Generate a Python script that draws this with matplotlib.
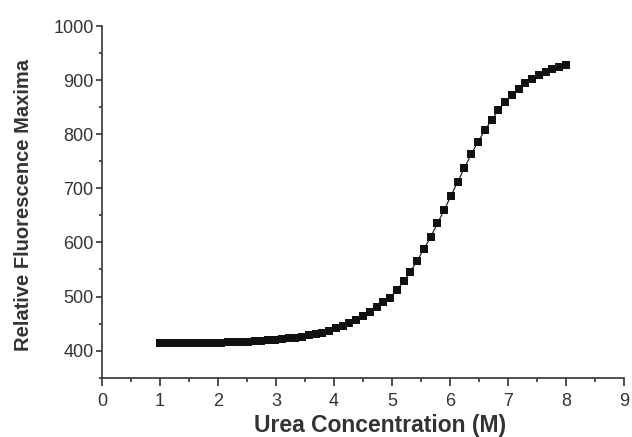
import matplotlib
matplotlib.use("Agg")
import matplotlib.pyplot as plt
from matplotlib.ticker import MultipleLocator

# Urea denaturation curve: relative fluorescence maxima vs. urea concentration
urea_m = [1.000, 1.117, 1.233, 1.350, 1.467, 1.583, 1.700, 1.817, 1.933, 2.050,
          2.167, 2.283, 2.400, 2.517, 2.633, 2.750, 2.867, 2.983, 3.100, 3.217,
          3.333, 3.450, 3.567, 3.683, 3.800, 3.917, 4.033, 4.150, 4.267, 4.383,
          4.500, 4.617, 4.733, 4.850, 4.967, 5.083, 5.200, 5.317, 5.433, 5.550,
          5.667, 5.783, 5.900, 6.017, 6.133, 6.250, 6.367, 6.483, 6.600, 6.717,
          6.833, 6.950, 7.067, 7.183, 7.300, 7.417, 7.533, 7.650, 7.767, 7.883,
          8.000]
fluorescence = [414, 414, 414, 414, 414, 414.5, 414.5, 415, 415, 415,
                415.5, 416, 416, 416.5, 417, 418, 419, 420, 421, 422.5,
                424, 426, 428, 430.5, 433.5, 437, 441, 445.5, 451, 457,
                464, 472, 481, 489, 498, 512, 528, 546, 566, 588,
                610, 635, 660, 686, 712, 738, 763, 786, 807, 826,
                844, 859, 872, 884, 894, 902, 909.5, 915.5, 921, 925, 928]

x_ticks = [0, 1, 2, 3, 4, 5, 6, 7, 8, 9]
y_ticks = [400, 500, 600, 700, 800, 900, 1000]

plt.rcParams['font.family'] = ['Liberation Sans', 'DejaVu Sans']

fig = plt.figure(figsize=(6.32, 4.37), dpi=100)
ax = fig.add_axes([0.1614, 0.1357, 0.8259, 0.8048])

ax.plot(urea_m, fluorescence, color='#111111', linewidth=0.8,
        marker='s', markersize=5.5, markeredgewidth=0, markerfacecolor='#111111')

ax.set_xlim(0, 9)
ax.set_ylim(350, 1000)
ax.set_xticks(x_ticks)
ax.set_yticks(y_ticks)
ax.xaxis.set_minor_locator(MultipleLocator(0.5))
ax.yaxis.set_minor_locator(MultipleLocator(50))

for side in ('top', 'right'):
    ax.spines[side].set_visible(False)
for side in ('left', 'bottom'):
    ax.spines[side].set_linewidth(1.2)
    ax.spines[side].set_color('#333333')

ax.tick_params(axis='x', which='major', direction='out', length=6, width=1.2,
               color='#333333', labelsize=13, labelcolor='#333333', pad=5)
ax.tick_params(axis='x', which='minor', direction='out', length=3, width=1.2,
               color='#333333')
ax.tick_params(axis='y', which='major', direction='out', length=4, width=1.2,
               color='#333333', labelsize=13, labelcolor='#333333', pad=2)
ax.tick_params(axis='y', which='minor', direction='out', length=2.5, width=1.2,
               color='#333333')

ax.set_xlabel('Urea Concentration (M)', fontsize=16.5, fontweight='bold',
              color='#333333')
ax.set_ylabel('Relative Fluorescence Maxima', fontsize=14.5, fontweight='bold',
              color='#333333')
ax.xaxis.set_label_coords(0.533, -0.103)
ax.yaxis.set_label_coords(-0.132, 0.49)

fig.savefig('out.png', dpi=100)
